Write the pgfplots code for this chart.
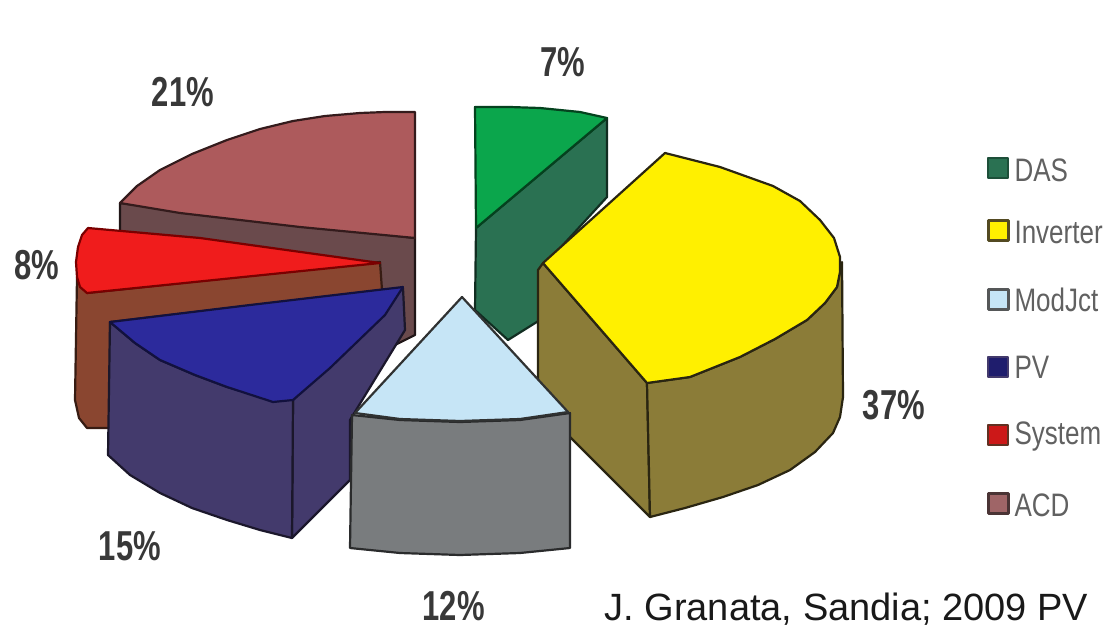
\documentclass[border=0pt]{standalone}
\usepackage{pgfplots}
\usepackage{fontspec}
\setmainfont{Liberation Sans}
\pgfplotsset{compat=1.18}
\definecolor{dasTop}{HTML}{0BA64C}
\definecolor{dasSide}{HTML}{2A7152}
\definecolor{invTop}{HTML}{FFF000}
\definecolor{invSide}{HTML}{8B7C38}
\definecolor{modTop}{HTML}{C6E5F6}
\definecolor{modSide}{HTML}{797C7E}
\definecolor{pvTop}{HTML}{2C2A9C}
\definecolor{pvSide}{HTML}{433A6C}
\definecolor{sysTop}{HTML}{F01C1C}
\definecolor{sysSide}{HTML}{8A4630}
\definecolor{acdTop}{HTML}{AD5A5C}
\definecolor{acdSide}{HTML}{6A4A4C}
\tikzset{pct/.style={font=\fontsize{31}{36}\selectfont\bfseries,text=black!78,transform shape,yscale=1.35},
  key/.style={font=\fontsize{26}{30}\selectfont,text=black!62,anchor=west,transform shape,yscale=1.25}}
\begin{document}
\begin{tikzpicture}
\useasboundingbox (0,0) rectangle (1110pt,627pt);
\begin{axis}[anchor=south west,at={(0,0)},width=1110pt,height=627pt,scale only axis,
  xmin=0,xmax=1110,ymin=0,ymax=627,y dir=reverse,hide axis,
  every axis plot/.append style={line width=2.2pt,line join=round}]

% ACD slice
\addplot[fill=acdSide,draw=black!70!acdSide] coordinates {(120,203)(415,238)(415,335)(385,350)(120,320)} -- cycle;
\addplot[fill=acdTop,draw=black!70!acdTop] coordinates {(415,112)(385,112)(360,113)(325,116)(293,121)(260,129)(227,140)(192,154)(160,170)(137,186)(120,203)(180,213)(300,227)(415,238)} -- cycle;

% System slice
\addplot[fill=sysSide,draw=black!60!sysSide] coordinates {(77,277)(75,400)(79,418)(87,428)(110,428)(110,322)(382,290)(380,262)(87,293)} -- cycle;
\addplot[fill=sysTop,draw=black!40!red!80!black] coordinates {(88,228)(82,235)(78,247)(76,262)(77,277)(80,287)(87,293)(380,263)(200,238)} -- cycle;

% PV slice
\addplot[fill=pvSide,draw=black!60!pvSide] coordinates {(293,400)(403,288)(405,330)(350,420)(350,480)(292,538)} -- cycle;
\addplot[fill=pvSide,draw=black!60!pvSide] coordinates {(110,322)(135,343)(160,360)(195,375)(227,387)(260,396)(293,400)(292,538)(260,530)(227,520)(192,508)(160,493)(130,475)(108,455)} -- cycle;
\addplot[fill=pvTop,draw=black!60!pvTop] coordinates {(110,322)(250,305)(403,287)(385,315)(330,368)(293,400)(273,402)(227,387)(195,375)(160,360)(135,343)} -- cycle;

% DAS slice
\addplot[fill=dasSide,draw=black!60!dasSide] coordinates {(607,118)(476,228)(475,310)(508,340)(540,320)(540,270)(607,197)} -- cycle;
\addplot[fill=dasTop,draw=black!60!dasTop] coordinates {(475,107)(510,107)(540,108)(580,112)(607,118)(476,228)} -- cycle;

% Inverter slice
\addplot[fill=invSide,draw=black!70!invSide] coordinates {(543,263)(647,383)(650,517)(570,437)(538,410)(538,270)} -- cycle;
\addplot[fill=invSide,draw=black!70!invSide] coordinates {(647,383)(690,377)(740,357)(775,339)(807,320)(825,303)(837,287)(842,262)(843,397)(840,417)(833,433)(815,452)(790,470)(758,485)(723,497)(685,508)(650,517)} -- cycle;
\addplot[fill=invTop,draw=black!70!invSide] coordinates {(665,153)(720,167)(773,186)(800,201)(820,220)(834,238)(840,257)(840,272)(837,287)(825,303)(807,320)(775,339)(740,357)(690,377)(647,383)(543,263)} -- cycle;

% ModJct slice
\addplot[fill=modSide,draw=black!65!modSide] coordinates {(352,415)(400,420)(460,422)(520,420)(570,413)(570,548)(520,553)(460,555)(400,553)(350,548)} -- cycle;
\addplot[fill=modTop,draw=black!60!modSide] coordinates {(462,297)(355,413)(400,419)(460,421)(520,419)(568,412)} -- cycle;

% Legend keys
\addplot[only marks,mark=square*,mark size=10pt,mark options={fill=dasSide,draw=dasSide!70!black,line width=1.5pt}] coordinates {(998,168)};
\addplot[only marks,mark=square*,mark size=10pt,mark options={fill=invTop,draw=invSide!60!black,line width=3pt}] coordinates {(998,230)};
\addplot[only marks,mark=square*,mark size=10pt,mark options={fill=modTop,draw=modSide!70!black,line width=3pt}] coordinates {(998,299)};
\addplot[only marks,mark=square*,mark size=10pt,mark options={fill=pvTop!70!black,draw=pvSide,line width=1.5pt}] coordinates {(998,367)};
\addplot[only marks,mark=square*,mark size=10pt,mark options={fill=sysTop!85!black,draw=sysSide!70!black,line width=2pt}] coordinates {(998,435)};
\addplot[only marks,mark=square*,mark size=10pt,mark options={fill=acdTop!70!gray,draw=acdSide!70!black,line width=3pt}] coordinates {(998,503)};

\node[key] at (axis cs:1011,170) {DAS};
\node[key] at (axis cs:1011,232) {Inverter};
\node[key] at (axis cs:1011,300) {ModJct};
\node[key] at (axis cs:1011,367) {PV};
\node[key] at (axis cs:1011,437) {System};
\node[key] at (axis cs:1011,505) {ACD};

% Percentages
\node[pct] at (axis cs:563,62) {7\%};
\node[pct] at (axis cs:183,92) {21\%};
\node[pct] at (axis cs:37,265) {8\%};
\node[pct] at (axis cs:894,405) {37\%};
\node[pct] at (axis cs:130,546) {15\%};
\node[pct,anchor=west] at (axis cs:419,606) {12\%};
\addplot[fill=white,draw=none] coordinates {(484,570)(540,570)(540,627)(484,627)} -- cycle;

% Source note
\node[anchor=west,font=\fontsize{38}{42}\selectfont,text=black!90] at (axis cs:601,609) {J. Granata, Sandia; 2009 PV};
\end{axis}
\end{tikzpicture}
\end{document}
